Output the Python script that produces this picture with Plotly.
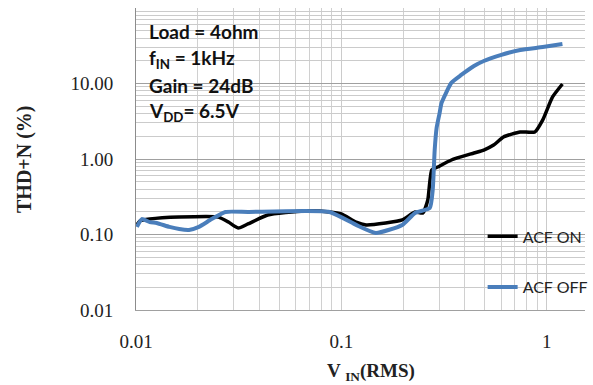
import plotly.graph_objects as go

# ---- data ----
on_x = [0.0101, 0.01045, 0.01167, 0.01624, 0.02523, 0.0282, 0.03145, 0.0351, 0.04377, 0.0658,
        0.0876, 0.100, 0.118, 0.1318, 0.1643, 0.198, 0.2285, 0.2495, 0.2637, 0.2756, 0.2944,
        0.3435, 0.4425, 0.494, 0.5516, 0.616, 0.743, 0.876, 0.957, 1.068, 1.193]
on_y = [0.134, 0.151, 0.160, 0.170, 0.170, 0.146, 0.122, 0.138, 0.181, 0.205,
        0.199, 0.187, 0.146, 0.134, 0.142, 0.156, 0.199, 0.193, 0.286, 0.715, 0.783,
        0.970, 1.20, 1.315, 1.53, 1.96, 2.28, 2.28, 3.29, 6.63, 9.85]

off_x = [0.0101, 0.01068, 0.01167, 0.0126, 0.01455, 0.01624, 0.01813, 0.02024, 0.02336, 0.02725,
         0.0351, 0.0876, 0.118, 0.1471, 0.198, 0.2285, 0.2696, 0.2786, 0.2848, 0.291, 0.301,
         0.3076, 0.3435, 0.3835, 0.4425, 0.494, 0.596, 0.743, 0.957, 1.193]
off_y = [0.126, 0.160, 0.146, 0.142, 0.126, 0.118, 0.115, 0.126, 0.160, 0.199,
         0.199, 0.199, 0.134, 0.105, 0.134, 0.193, 0.224, 0.388, 1.315, 2.57, 4.06,
         5.52, 10.2, 12.97, 17.06, 19.86, 23.8, 27.8, 30.4, 33.3]

series_names = ["ACF ON", "ACF OFF"]
x_ticks = [0.01, 0.1, 1]
x_ticktext = ["0.01", "0.1", "1"]
y_ticks = [0.01, 0.1, 1, 10]
y_ticktext = ["0.01", "0.10", "1.00", "10.00"]
info_lines = ["Load = 4ohm", "f<sub>IN</sub> = 1kHz", "Gain = 24dB", "V<sub>DD</sub>= 6.5V"]

x_minor = [m * 10 ** d for d in (-2, -1, 0) for m in range(2, 10)]
y_minor = [m * 10 ** d for d in (-2, -1, 0, 1) for m in range(2, 10)]

fig = go.Figure()
fig.add_trace(go.Scatter(x=on_x, y=on_y, mode="lines", name=series_names[0],
                         legendgroup="a",
                         line=dict(color="#000000", width=3.5, shape="spline", smoothing=0.5)))
fig.add_trace(go.Scatter(x=off_x, y=off_y, mode="lines", name=series_names[1],
                         legendgroup="b",
                         line=dict(color="#4a7ebb", width=4, shape="spline", smoothing=0.5)))

serif = "Liberation Serif, Times New Roman, serif"
sans = "Lato, Liberation Sans, sans-serif"

fig.update_layout(
    width=593, height=385,
    margin=dict(l=136, r=0, t=8, b=75),
    plot_bgcolor="white", paper_bgcolor="white",
    showlegend=True,
    legend=dict(x=0.772, y=0.30, xanchor="left", yanchor="top",
                font=dict(family=sans, size=16, color="#222"),
                traceorder="grouped", tracegroupgap=27,
                bgcolor="rgba(0,0,0,0)", itemwidth=30),
    xaxis=dict(type="log", range=[-2, 0.1866],
               tickvals=x_ticks, ticktext=x_ticktext,
               tickfont=dict(family=serif, size=19, color="#222"),
               ticks="", ticklabelstandoff=14,
               showgrid=True, gridcolor="#cbcbcb", gridwidth=1,
               minor=dict(tickvals=x_minor, showgrid=True, gridcolor="#d0d0d0", gridwidth=1, ticks=""),
               showline=True, linecolor="#a0a0a0", linewidth=1, zeroline=False),
    yaxis=dict(type="log", range=[-2, 2],
               tickvals=y_ticks, ticktext=y_ticktext,
               tickfont=dict(family=serif, size=19, color="#222"),
               ticks="", ticklabelstandoff=18,
               showgrid=True, gridcolor="#a0a0a0", gridwidth=1,
               minor=dict(tickvals=y_minor, showgrid=True, gridcolor="#cbcbcb", gridwidth=1, ticks=""),
               showline=True, linecolor="#8c8c8c", linewidth=1, zeroline=False),
)

# axis titles
fig.add_annotation(text="<b>THD+N (%)</b>", xref="paper", yref="paper",
                   x=-(136 - 22) / 457, y=0.5, textangle=-90, showarrow=False,
                   font=dict(family=serif, size=20, color="#222"),
                   xanchor="center", yanchor="middle")
fig.add_annotation(text="<b>V <sub>IN</sub>(RMS)</b>", xref="paper", yref="paper",
                   x=(375 - 136) / 457, y=-(372 - 310) / 302, showarrow=False,
                   font=dict(family=serif, size=19, color="#222"),
                   xanchor="center", yanchor="middle")

# info text block
for i, line in enumerate(info_lines):
    fig.add_annotation(text="<b>" + line + "</b>", xref="paper", yref="paper",
                       x=(147 - 136) / 457, y=(310 - (32 + i * 26.7)) / 302,
                       showarrow=False, xanchor="left", yanchor="middle",
                       font=dict(family=sans, size=19, color="#111"))

fig.write_html("out.html")
